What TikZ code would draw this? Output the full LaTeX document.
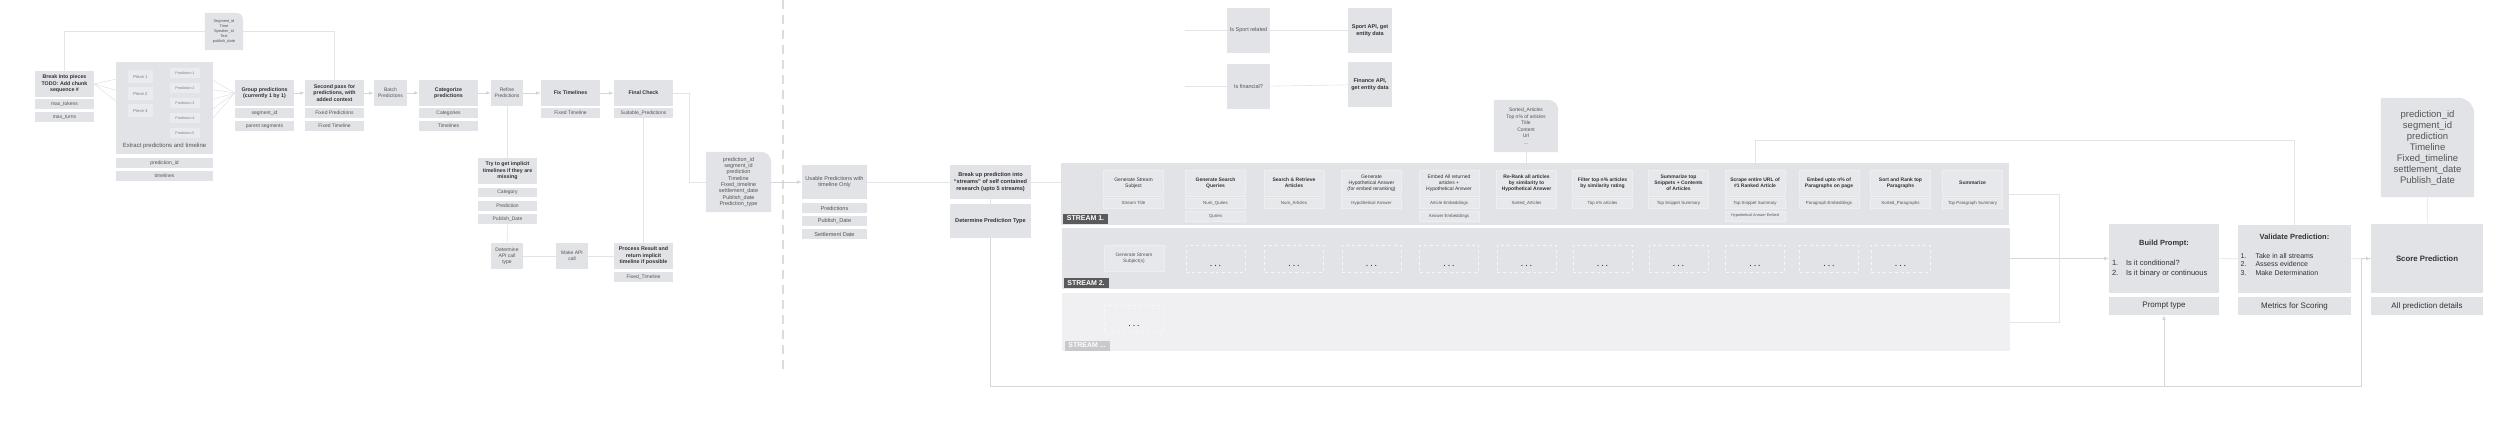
\documentclass[tikz,border=0pt]{standalone}
\usepackage{fontspec}
\setmainfont{Liberation Sans}
\usetikzlibrary{backgrounds}

\definecolor{boxgray}{HTML}{E2E3E7}
\definecolor{pieceg}{HTML}{EAEBEE}
\definecolor{panelg}{HTML}{E2E3E6}
\definecolor{panell}{HTML}{F0F0F2}
\definecolor{stepg}{HTML}{E7E8EB}
\definecolor{stepedge}{HTML}{EEEEF1}
\definecolor{linegray}{HTML}{E4E4E8}
\definecolor{arrowg}{HTML}{D6D6DA}
\definecolor{txtdark}{HTML}{333333}
\definecolor{txtmid}{HTML}{555555}
\definecolor{txtlight}{HTML}{7A7A7A}
\definecolor{tagdark}{HTML}{5A5A5C}
\definecolor{taglight}{HTML}{C9C9CD}
\definecolor{sepg}{HTML}{DCDCDC}
\definecolor{dashg}{HTML}{F7F7F8}

\newcommand{\cardfill}[2]{\fill[boxgray] (#1.south west) -- (#1.north west) -- ([xshift=-#2pt]#1.north east) arc[start angle=90,end angle=0,radius=#2pt] -- (#1.south east) -- cycle;}

\begin{document}
\begin{tikzpicture}[x=1pt,y=-1pt,
  gbox/.style={fill=boxgray,inner sep=1pt,align=center,text=txtdark},
  headbox/.style={gbox,minimum width=59,minimum height=26,font=\fontsize{5.3}{6.6}\selectfont\bfseries},
  plainbox/.style={gbox,minimum width=32,minimum height=26,font=\fontsize{5}{6.2}\selectfont,text=txtmid},
  cellbox/.style={gbox,minimum width=59,minimum height=10,font=\fontsize{5}{6}\selectfont,text=txtmid},
  tinybox/.style={fill=pieceg,inner sep=0.5pt,font=\fontsize{3.6}{4.4}\selectfont,text=txtlight},
  card/.style={align=center,inner sep=1pt,text=txtmid},
  panelbox/.style={minimum width=948,inner sep=0pt},
  stepb/.style={fill=stepg,draw=stepedge,line width=0.4pt,minimum width=60,minimum height=26,inner sep=1pt,align=center,text=txtdark,font=\fontsize{5}{6.1}\selectfont\bfseries},
  outbox/.style={fill=stepg,draw=stepedge,line width=0.4pt,minimum width=60,minimum height=10,inner sep=0.5pt,font=\fontsize{4.4}{5}\selectfont,text=txtmid},
  dotbox/.style={draw=dashg,dashed,line width=0.5pt,minimum width=59,minimum height=27,inner sep=0pt,font=\fontsize{7}{8}\selectfont\bfseries,text=txtdark},
  tag/.style={fill=tagdark,text=white,minimum width=45,minimum height=10,inner sep=0.5pt,font=\fontsize{7}{8}\selectfont\bfseries},
  bigbox/.style={gbox,font=\fontsize{8}{9.6}\selectfont},
  linkline/.style={draw=linegray,line width=0.6pt},
  flowline/.style={draw=arrowg,line width=0.6pt,-latex}]
\useasboundingbox (0,0) rectangle (2500,423);

% extraction half
\node[card,font=\fontsize{3.9}{5.2}\selectfont,minimum width=38,minimum height=37] (segdata) at (224,31.5) {Segment\_id\\Time\\Speaker\_id\\Text\\publish\_date};
\node[headbox] (brk) at (64.5,84) {Break into pieces\\TODO: Add chunk\\sequence \#};
\node[cellbox] (maxtok) at (64.5,104) {max\_tokens};
\node[cellbox] (maxturn) at (64.5,117) {max\_turns};
\node[gbox,minimum width=97,minimum height=92] (extract) at (164.5,108) {};
\node[font=\fontsize{6}{7}\selectfont,text=txtmid] (extractcap) at (164.5,146) {Extract predictions and timeline};
\foreach \i/\y in {1/76.5,2/93.5,3/110.5}
  \node[tinybox,minimum width=25,minimum height=13,font=\fontsize{4.2}{5}\selectfont] (piece\i) at (140.5,\y) {Piece \i};
\foreach \i/\y in {1/73,2/88,3/103,4/118,5/133}
  \node[tinybox,minimum width=30,minimum height=10] (pred\i) at (185,\y) {Prediction \i};
\node[cellbox,minimum width=97] (predid) at (164.5,163) {prediction\_id};
\node[cellbox,minimum width=97] (tlines) at (164.5,176) {timelines};

\node[headbox] (group) at (264.5,93) {Group predictions\\(currently 1 by 1)};
\node[cellbox] (segid) at (264.5,113) {segment\_id};
\node[cellbox] (parseg) at (264.5,126) {parent segments};
\node[headbox] (second) at (334.5,93) {Second pass for\\predictions, with\\added context};
\node[cellbox] (fixpred) at (334.5,113) {Fixed Predictions};
\node[cellbox] (fixtl) at (334.5,126) {Fixed Timeline};
\node[plainbox,minimum width=33] (batch) at (390.5,93) {Batch\\Predictions};
\node[headbox] (categ) at (448.5,93) {Categorize\\predictions};
\node[cellbox] (cats) at (448.5,113) {Categories};
\node[cellbox] (tls) at (448.5,126) {Timelines};
\node[plainbox] (refine) at (507,93) {Refine\\Predictions};
\node[headbox] (fixtime) at (570.5,93) {Fix Timelines};
\node[cellbox] (fixtlb) at (570.5,113) {Fixed Timeline};
\node[headbox] (final) at (643.5,93) {Final Check};
\node[cellbox] (suitable) at (643.5,113) {Suitable\_Predictions};

\node[headbox] (implicit) at (507.5,171) {Try to get implicit\\timelines if they are\\missing};
\node[cellbox,minimum height=9.5] (category) at (507.5,192.5) {Category};
\node[cellbox,minimum height=9.5] (predn) at (507.5,206) {Prediction};
\node[cellbox,minimum height=9.5] (pubdate) at (507.5,219) {Publish\_Date};
\node[plainbox] (apitype) at (507,256) {Determine\\API call\\type};
\node[plainbox] (makeapi) at (572,256) {Make API\\call};
\node[headbox] (process) at (643.5,256) {Process Result and\\return implicit\\timeline if possible};
\node[cellbox] (fixtlc) at (643.5,277) {Fixed\_Timeline};

\node[card,font=\fontsize{5.5}{6.3}\selectfont,minimum width=65,minimum height=60] (preddata) at (738.5,182) {prediction\_id\\segment\_id\\prediction\\Timeline\\Fixed\_timeline\\settlement\_date\\Publish\_date\\Prediction\_type};

\draw[sepg,line width=1.3pt,dash pattern=on 9pt off 6pt] (783,0) -- (783,372);

% research half
\node[gbox,minimum width=65,minimum height=34,font=\fontsize{5.6}{6.6}\selectfont,text=txtmid] (usable) at (834.5,182) {Usable Predictions with\\timeline Only};
\node[cellbox,minimum width=65,font=\fontsize{5.6}{6}\selectfont] (usepred) at (834.5,208) {Predictions};
\node[cellbox,minimum width=65,font=\fontsize{5.6}{6}\selectfont] (usepub) at (834.5,221) {Publish\_Date};
\node[cellbox,minimum width=65,font=\fontsize{5.6}{6}\selectfont] (useset) at (834.5,234) {Settlement Date};

\node[gbox,minimum width=81,minimum height=34,font=\fontsize{5.6}{7}\selectfont\bfseries] (breakup) at (990.5,182) {Break up prediction into\\``streams'' of self contained\\research (upto 5 streams)};
\node[gbox,minimum width=81,minimum height=34,font=\fontsize{5.6}{7}\selectfont\bfseries] (predtype) at (990.5,221) {Determine Prediction Type};

\node[gbox,minimum width=43,minimum height=45,font=\fontsize{5.5}{6.6}\selectfont,text=txtmid] (sport) at (1248.5,30.5) {Is Sport related};
\node[gbox,minimum width=44,minimum height=45,font=\fontsize{5.5}{6.6}\selectfont\bfseries] (sportapi) at (1370,30.5) {Sport API, get\\entity data};
\node[gbox,minimum width=43,minimum height=45,font=\fontsize{5.5}{6.6}\selectfont,text=txtmid] (fin) at (1248.5,86.5) {Is financial?};
\node[gbox,minimum width=44,minimum height=45,font=\fontsize{5.5}{6.6}\selectfont\bfseries] (finapi) at (1370,84.5) {Finance API,\\get entity data};
\coordinate (apiin1) at (1185,30.5);
\coordinate (apiin2) at (1185,86.5);

\node[card,font=\fontsize{5}{6.5}\selectfont,minimum width=64,minimum height=52] (artcard) at (1526,126) {Sorted\_Articles\\Top n\% of articles\\Title\\Content\\Url\\...};

\node[panelbox,fill=panelg,minimum height=62] (s1) at (1535,194) {};
\node[panelbox,fill=panelg,minimum height=61] (s2) at (1535.5,258.5) {};
\node[panelbox,fill=panell,minimum height=58] (s3) at (1535.5,322) {};
\node[tag] (s1tag) at (1085.5,218.5) {STREAM 1.};
\node[tag] (s2tag) at (1086,283) {STREAM 2.};
\node[tag,fill=taglight] (s3tag) at (1087,345.5) {STREAM ...};

\foreach \i/\x/\w/\lbl/\res in {
  1/1133.5/\mdseries/{Generate Stream\\Subject}/{Stream Title},
  2/1215.5/\bfseries/{Generate Search\\Queries}/{Num\_Quries},
  3/1294/\bfseries/{Search \& Retrieve\\Articles}/{Num\_Articles},
  4/1371.5/\mdseries/{Generate\\Hypothetical Answer\\(for embed reranking)}/{Hypothetical Answer},
  5/1449/\mdseries/{Embed All returned\\articles +\\Hypothetical Answer}/{Article Embeddings},
  6/1526.5/\bfseries/{Re-Rank all articles\\by similarity to\\Hypothetical Answer}/{Sorted\_Articles},
  7/1602.5/\bfseries/{Filter top n\% articles\\by similarity rating}/{Top n\% articles},
  8/1678.5/\bfseries/{Summarize top\\Snippets + Contents\\of Articles}/{Top Snippet Summary},
  9/1755/\bfseries/{Scrape entire URL of\\\#1 Ranked Article}/{Top Snippet Summary},
  10/1829/\bfseries/{Embed upto n\% of\\Paragraphs on page}/{Paragraph Embeddings},
  11/1900.5/\bfseries/{Sort and Rank top\\Paragraphs}/{Sorted\_Paragraphs},
  12/1972.5/\bfseries/{Summarize}/{Top Paragraph Summary}}
{
  \node[stepb,font=\fontsize{5}{6.1}\selectfont\w] (st\i) at (\x,183) {\lbl};
  \node[outbox] (out\i) at (\x,203) {\res};
}
\node[outbox] (out2b) at (1215.5,216) {Quries};
\node[outbox] (out5b) at (1449,216) {Answer Embeddings};
\node[outbox,font=\fontsize{3.8}{4.4}\selectfont] (out9b) at (1755,216) {Hypothetical Answer Embed};

\node[stepb,font=\fontsize{4.8}{5.8}\selectfont,text=txtmid] (subj2) at (1134,258.5) {Generate Stream\\Subject(s)};
\foreach \i/\x in {2/1215.5,3/1294,4/1371.5,5/1449,6/1526.5,7/1602.5,8/1678.5,9/1755,10/1829,11/1900.5}
  \node[dotbox] (dd\i) at (\x,258.5) {\rule{0pt}{15pt}.\hspace{2.4pt}.\hspace{2.4pt}.};
\node[dotbox] (dd3s) at (1134,318.5) {\rule{0pt}{15pt}.\hspace{2.4pt}.\hspace{2.4pt}.};

% scoring
\node[card,font=\fontsize{9.5}{11}\selectfont,minimum width=93,minimum height=99] (rcard) at (2427.5,147.5) {prediction\_id\\segment\_id\\prediction\\Timeline\\Fixed\_timeline\\settlement\_date\\Publish\_date};
\node[gbox,minimum width=110,minimum height=69,inner sep=2pt] (build) at (2164,258.5) {\parbox{104pt}{\centering\bfseries\fontsize{7.5}{9}\selectfont Build Prompt:\par\vspace{10pt}\raggedright\mdseries\fontsize{7.5}{10}\selectfont\makebox[14pt][l]{1.}Is it conditional?\par\makebox[14pt][l]{2.}Is it binary or continuous\par}};
\node[bigbox,minimum width=110,minimum height=18] (ptype) at (2164,306) {Prompt type};
\node[gbox,minimum width=113,minimum height=68,inner sep=2pt] (validate) at (2294.5,259) {\parbox{108pt}{\centering\bfseries\fontsize{7.5}{9}\selectfont Validate Prediction:\par\vspace{10pt}\raggedright\mdseries\fontsize{7}{8.5}\selectfont\makebox[15pt][l]{1.}Take in all streams\par\makebox[15pt][l]{2.}Assess evidence\par\makebox[15pt][l]{3.}Make Determination\par\vspace{8pt}}};
\node[bigbox,minimum width=113,minimum height=18] (metrics) at (2294.5,306) {Metrics for Scoring};
\node[gbox,minimum width=112,minimum height=69,font=\fontsize{7.8}{9}\selectfont\bfseries] (score) at (2427,258.5) {Score Prediction};
\node[bigbox,minimum width=112,minimum height=18] (alldet) at (2427,306) {All prediction details};

\begin{scope}[on background layer]
\cardfill{segdata}{7}
\cardfill{preddata}{10}
\cardfill{artcard}{10}
\cardfill{rcard}{16}
\end{scope}

% connectors
\draw[linkline] (segdata.west) -| (brk.north);
\draw[linkline] (segdata.east) -| (second.north);
\foreach \i in {1,2,3} \draw[linkline] (brk.east) -- (piece\i.west);
\foreach \a/\b in {1/1,1/3,2/2,2/4,3/3,3/5} \draw[linkline] (piece\a.east) -- (pred\b.west);
\foreach \i in {1,...,5} \draw[linkline] (pred\i.east) -- (group.west);
\foreach \a/\b in {group/second,second/batch,batch/categ,categ/refine,refine/fixtime,fixtime/final}
  \draw[flowline] (\a) -- (\b);
\draw[linkline] (refine.south) -- (refine.south |- implicit.north);
\draw[linkline] (pubdate) -- (apitype);
\draw[linkline] (apitype) -- (makeapi);
\draw[linkline] (makeapi) -- (process);
\draw[linkline] (suitable) -- (process);
\draw[linkline] (final.east) -- ++(16,0) |- (preddata.west);
\draw[flowline] (preddata) -- (usable);
\draw[linkline] (usable) -- (breakup);
\draw[linkline] (breakup) -- (predtype);
\draw[linkline] (breakup.east) -- (breakup.east -| st1.west);
\foreach \i [count=\j from 2] in {1,...,11} \draw[linkline] (st\i) -- (st\j);
\draw[linkline] (s2.west |- subj2) -- (subj2);
\draw[linkline] (subj2) -- (dd2);
\foreach \i [count=\j from 3] in {2,...,10} \draw[linkline] (dd\i) -- (dd\j);
\draw[linkline] (apiin1) -- (sport);
\draw[linkline] (sport) -- (sportapi);
\draw[linkline] (apiin2) -- (fin);
\draw[linkline] (fin) -- (finapi);
\draw[linkline] (artcard) -- (artcard |- s1.north);
\coordinate (vtop) at (1755,140);
\draw[linkline] (s1.north -| st9) -- (vtop) -| (validate.north);
\coordinate (join) at (2059,194);
\draw[linkline] (s1.east) -- (join) -- (join |- s3.east) -- (s3.east);
\draw[flowline] (s2.east) -- (build.west);
\draw[linkline] (build) -- (validate);
\draw[linkline] (validate) -- (score);
\draw[linkline] (rcard) -- (score);
\coordinate (trunk) at (2361,386);
\draw[flowline] (predtype.south) |- (trunk) -- (trunk |- score.west) -- (score.west);
\draw[flowline] (ptype.south |- trunk) -- (ptype.south);
\end{tikzpicture}
\end{document}
